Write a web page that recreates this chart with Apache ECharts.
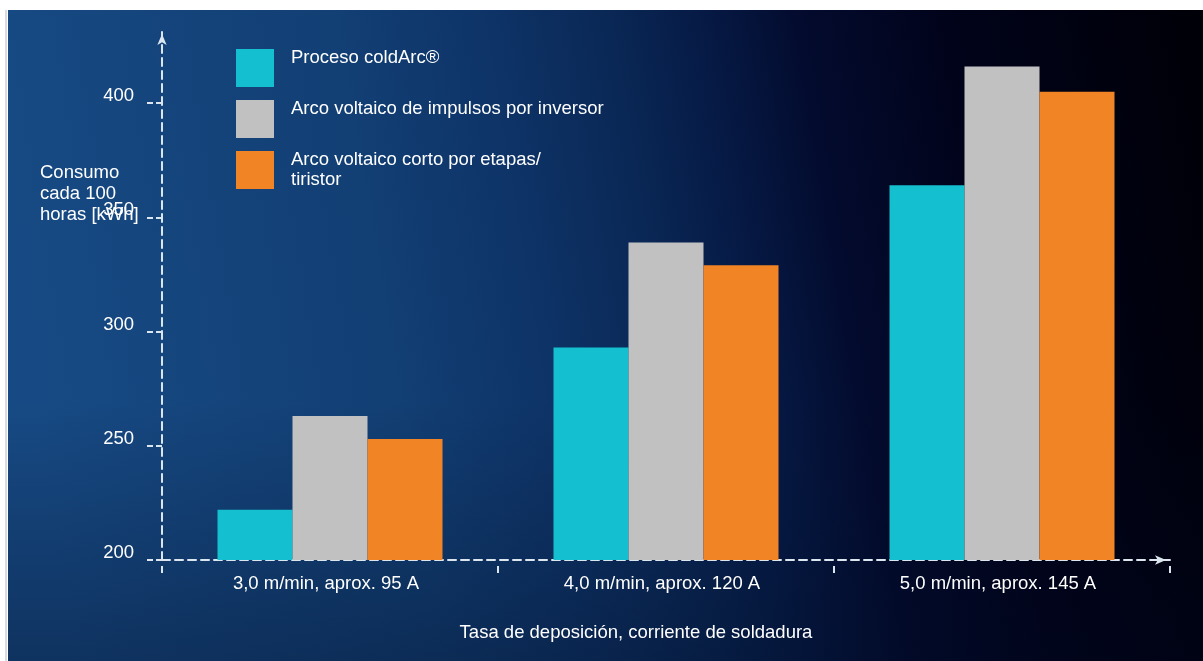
<!DOCTYPE html>
<html>
<head>
<meta charset="utf-8">
<script src="https://cdn.jsdelivr.net/npm/echarts@6/dist/echarts.min.js"></script>
<style>
html,body{margin:0;padding:0;background:#fff;}
#chart{width:1203px;height:661px;}
</style>
</head>
<body>
<div id="chart"></div>
<script>
const categories = ['3,0 m/min, aprox. 95 A', '4,0 m/min, aprox. 120 A', '5,0 m/min, aprox. 145 A'];
const seriesNames = ['Proceso coldArc®', 'Arco voltaico de impulsos por inversor', 'Arco voltaico corto por etapas/\ntiristor'];
const coldArc = [222, 293, 364];
const impulsos = [263, 339, 416];
const corto = [253, 329, 405];
const yTicks = [200, 250, 300, 350, 400];
const yAxisName = 'Consumo\ncada 100\nhoras [kWh]';
const xAxisName = 'Tasa de deposición, corriente de soldadura';

const FONT = "'Liberation Sans', Arial, sans-serif";
const FS = 18.5;
const AXIS_COLOR = '#dbe6ef';
const chart = echarts.init(document.getElementById('chart'));

const bgGrad = new echarts.graphic.LinearGradient(0, 0.4, 1, 0.1, [
  {offset: 0, color: '#174a84'},
  {offset: 0.3, color: '#123f74'},
  {offset: 0.42, color: '#0e3468'},
  {offset: 0.52, color: '#0a2856'},
  {offset: 0.6, color: '#061a45'},
  {offset: 0.68, color: '#030b2e'},
  {offset: 0.8, color: '#01031a'},
  {offset: 1, color: '#000008'}
]);
const shadeGrad = new echarts.graphic.LinearGradient(0, 0, 0, 1, [
  {offset: 0, color: 'rgba(0,8,30,0)'},
  {offset: 0.6, color: 'rgba(0,8,30,0)'},
  {offset: 1, color: 'rgba(0,8,30,0.35)'}
]);

chart.setOption({
  backgroundColor: '#ffffff',
  animation: false,
  textStyle: {fontFamily: FONT},
  graphic: [
    {type: 'rect', left: 8, top: 10, z: -10, silent: true,
     shape: {width: 1195, height: 651}, style: {fill: bgGrad}},
    {type: 'rect', left: 8, top: 10, z: -9, silent: true,
     shape: {width: 1195, height: 651}, style: {fill: shadeGrad}},
    {type: 'rect', left: 5, top: 10, z: -8, silent: true,
     shape: {width: 2, height: 651}, style: {fill: '#d8dce2'}},
    {type: 'text', left: 40, top: 162, z: 10,
     style: {text: yAxisName, fill: '#ffffff', font: FS + 'px ' + FONT, lineHeight: 21}},
    {type: 'text', x: 636, y: 633, z: 10,
     style: {text: xAxisName, fill: '#ffffff', font: FS + 'px ' + FONT, align: 'center', verticalAlign: 'middle'}}
  ],
  legend: {
    orient: 'vertical',
    left: 236,
    top: 48,
    padding: 0,
    itemWidth: 38,
    itemHeight: 38,
    itemGap: 11,
    icon: 'rect',
    data: seriesNames,
    formatter: function (name) { return name.indexOf('\n') >= 0 ? name : name + '\n '; },
    textStyle: {color: '#ffffff', fontSize: FS, fontFamily: FONT, lineHeight: 20, padding: [0, 0, 0, 12]}
  },
  grid: {left: 162, right: 33, top: 30, bottom: 101, containLabel: false},
  xAxis: {
    type: 'category',
    data: categories,
    axisLine: {show: true, symbol: ['none', 'arrow'], symbolSize: [7, 11], symbolOffset: [0, -4],
      lineStyle: {color: AXIS_COLOR, width: 2, type: [8, 5]}},
    axisTick: {show: true, length: 14, lineStyle: {color: AXIS_COLOR, width: 2, type: [7, 6], dashOffset: 7}},
    axisLabel: {color: '#ffffff', fontSize: FS, fontFamily: FONT, margin: 14, padding: [0, 8, 0, 0]},
    splitLine: {show: false}
  },
  yAxis: {
    type: 'value',
    min: 200,
    max: 432,
    interval: 50,
    axisLine: {show: true, symbol: ['none', 'arrow'], symbolSize: [7, 11], symbolOffset: [0, -4],
      lineStyle: {color: AXIS_COLOR, width: 2, type: [8, 5]}},
    axisTick: {show: true, length: 16, customValues: yTicks, lineStyle: {color: AXIS_COLOR, width: 2, type: [6, 3]}},
    axisLabel: {color: '#ffffff', fontSize: FS, fontFamily: FONT, margin: 28, customValues: yTicks,
      verticalAlign: 'bottom', lineHeight: 14},
    splitLine: {show: false}
  },
  series: [
    {name: seriesNames[0], type: 'bar', data: coldArc, barWidth: 75, barGap: '0%', itemStyle: {color: '#14bfcf'}},
    {name: seriesNames[1], type: 'bar', data: impulsos, barWidth: 75, barGap: '0%', itemStyle: {color: '#c1c1c1'}},
    {name: seriesNames[2], type: 'bar', data: corto, barWidth: 75, barGap: '0%', itemStyle: {color: '#f18424'}}
  ]
});
</script>
</body>
</html>
